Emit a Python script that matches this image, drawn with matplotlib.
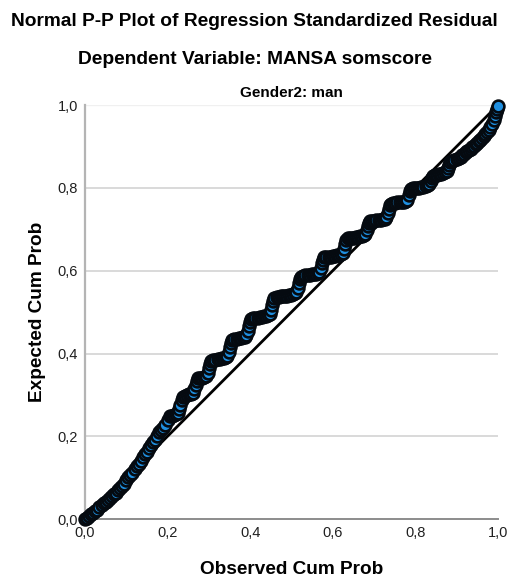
import matplotlib
matplotlib.use("Agg")
import matplotlib.pyplot as plt
from matplotlib.ticker import FixedLocator

plt.rcParams["font.family"] = ["Liberation Sans", "DejaVu Sans"]

# Observed vs expected cumulative probabilities of the standardized residuals
obs_cum_prob = [
    0.000, 0.005, 0.010, 0.015, 0.020, 0.025, 0.030, 0.035, 0.040, 0.045,
    0.050, 0.055, 0.060, 0.065, 0.070, 0.075, 0.080, 0.085, 0.090, 0.095,
    0.100, 0.105, 0.110, 0.115, 0.120, 0.125, 0.130, 0.135, 0.140, 0.145,
    0.150, 0.155, 0.160, 0.165, 0.170, 0.175, 0.180, 0.185, 0.190, 0.195,
    0.200, 0.205,
    0.210, 0.215, 0.220, 0.225, 0.228, 0.231, 0.234, 0.237,
    0.242, 0.247, 0.252, 0.257, 0.262, 0.265, 0.268, 0.271, 0.274,
    0.279, 0.284, 0.289, 0.294, 0.297, 0.300, 0.303, 0.306,
    0.311, 0.316, 0.321, 0.326, 0.331, 0.336, 0.341, 0.345, 0.348, 0.351, 0.354, 0.357,
    0.362, 0.367, 0.372, 0.377, 0.382, 0.387, 0.391, 0.394, 0.397, 0.400, 0.403,
    0.408, 0.413, 0.418, 0.423, 0.428, 0.433, 0.438, 0.443, 0.447, 0.450, 0.453, 0.456, 0.459,
    0.464, 0.469, 0.474, 0.479, 0.484, 0.489, 0.494, 0.499, 0.504, 0.509, 0.512,
    0.515, 0.518, 0.521, 0.524,
    0.529, 0.534, 0.539, 0.544, 0.549, 0.554, 0.559, 0.564, 0.568, 0.571, 0.574, 0.577, 0.580,
    0.585, 0.590, 0.595, 0.600, 0.605, 0.610, 0.615, 0.620, 0.624, 0.627, 0.630, 0.633, 0.636,
    0.641, 0.646, 0.651, 0.656, 0.661, 0.666, 0.671, 0.676, 0.679, 0.682, 0.685, 0.688, 0.691,
    0.696, 0.701, 0.706, 0.711, 0.716, 0.721, 0.726, 0.730, 0.733, 0.736, 0.739, 0.742,
    0.747, 0.752, 0.757, 0.762, 0.767, 0.772, 0.777, 0.781, 0.784, 0.787, 0.790,
    0.795, 0.800, 0.805, 0.810, 0.815, 0.820, 0.825, 0.830, 0.834, 0.837, 0.840, 0.843,
    0.848, 0.853, 0.858, 0.863, 0.868, 0.872, 0.876, 0.879, 0.882, 0.885,
    0.890, 0.895, 0.900, 0.905, 0.910, 0.914,
    0.918, 0.922, 0.926, 0.930, 0.934, 0.938, 0.942, 0.946, 0.950, 0.954,
    0.958, 0.962, 0.966, 0.970, 0.974, 0.978, 0.982, 0.986, 0.990, 0.993,
    0.996, 0.998, 1.000,
]
exp_cum_prob = [
    0.000, 0.003, 0.007, 0.011, 0.015, 0.019, 0.023, 0.028, 0.033, 0.038,
    0.042, 0.046, 0.050, 0.056, 0.060, 0.064, 0.070, 0.076, 0.081, 0.085,
    0.094, 0.101, 0.106, 0.112, 0.122, 0.128, 0.133, 0.140, 0.150, 0.157,
    0.163, 0.172, 0.180, 0.185, 0.190, 0.200, 0.210, 0.215, 0.220, 0.228,
    0.240, 0.248,
    0.250, 0.252, 0.254, 0.256, 0.265, 0.276, 0.287, 0.296,
    0.298, 0.300, 0.301, 0.303, 0.305, 0.314, 0.324, 0.333, 0.340,
    0.341, 0.342, 0.344, 0.346, 0.354, 0.364, 0.374, 0.382,
    0.384, 0.385, 0.386, 0.387, 0.388, 0.389, 0.391, 0.394, 0.404, 0.415, 0.426, 0.433,
    0.435, 0.436, 0.437, 0.438, 0.439, 0.441, 0.444, 0.455, 0.466, 0.477, 0.484,
    0.486, 0.487, 0.487, 0.488, 0.489, 0.490, 0.491, 0.493, 0.496, 0.506, 0.517, 0.527, 0.534,
    0.536, 0.537, 0.538, 0.538, 0.539, 0.540, 0.541, 0.542, 0.543, 0.545, 0.548,
    0.559, 0.570, 0.580, 0.586,
    0.588, 0.589, 0.589, 0.590, 0.591, 0.592, 0.593, 0.594, 0.597, 0.607, 0.618, 0.627, 0.632,
    0.633, 0.634, 0.634, 0.635, 0.636, 0.637, 0.638, 0.640, 0.643, 0.653, 0.664, 0.674, 0.678,
    0.679, 0.680, 0.680, 0.681, 0.682, 0.683, 0.684, 0.686, 0.689, 0.699, 0.709, 0.716, 0.719,
    0.720, 0.721, 0.722, 0.722, 0.723, 0.724, 0.726, 0.729, 0.739, 0.750, 0.758, 0.762,
    0.763, 0.764, 0.765, 0.765, 0.766, 0.767, 0.769, 0.772, 0.782, 0.792, 0.797,
    0.799, 0.800, 0.800, 0.801, 0.802, 0.803, 0.804, 0.806, 0.809, 0.817, 0.825, 0.830,
    0.831, 0.832, 0.833, 0.834, 0.835, 0.838, 0.842, 0.848, 0.856, 0.862,
    0.866, 0.868, 0.870, 0.872, 0.875, 0.879,
    0.883, 0.886, 0.889, 0.892, 0.895, 0.898, 0.902, 0.906, 0.909, 0.913,
    0.917, 0.921, 0.926, 0.930, 0.935, 0.941, 0.947, 0.955, 0.965, 0.974,
    0.983, 0.990, 0.997,
]

tick_values = [0.0, 0.2, 0.4, 0.6, 0.8, 1.0]
tick_labels = ["0,0", "0,2", "0,4", "0,6", "0,8", "1,0"]

fig = plt.figure(figsize=(5.09, 5.78), dpi=100)
ax = fig.add_axes([0.167, 0.102, 0.811, 0.716])

ax.set_xlim(0, 1)
ax.set_ylim(0, 1)

# horizontal reference lines
for v in tick_values[1:-1]:
    ax.axhline(v, color="#d9d9d9", lw=1.4, zorder=0)
ax.axhline(1.0, color="#f0f0f0", lw=1.0, zorder=0)

# expected-under-normality diagonal
ax.plot([0, 1], [0, 1], color="black", lw=2.0, zorder=2, solid_capstyle="butt")

ax.scatter(obs_cum_prob, exp_cum_prob, s=72, facecolor="#1f8fe0",
           edgecolor="#050a10", linewidth=1.9, zorder=3, clip_on=False)

ax.xaxis.set_major_locator(FixedLocator(tick_values))
ax.yaxis.set_major_locator(FixedLocator(tick_values))
ax.set_xticklabels(tick_labels)
ax.set_yticklabels(tick_labels)
ax.tick_params(length=0, labelsize=10.5, colors="#202020", pad=5)

for side in ("top", "right"):
    ax.spines[side].set_visible(False)
ax.spines["left"].set_color("#b4b4b4")
ax.spines["left"].set_linewidth(1.6)
ax.spines["bottom"].set_color("#8c8c8c")
ax.spines["bottom"].set_linewidth(1.4)

ax.set_xlabel("Observed Cum Prob", fontsize=13.7, fontweight="bold", labelpad=15)
ax.set_ylabel("Expected Cum Prob", fontsize=13.7, fontweight="bold", labelpad=8)

fig.text(0.5, 1 - 21 / 578, "Normal P-P Plot of Regression Standardized Residual",
         ha="center", va="center", fontsize=13.8, fontweight="bold")
fig.text(0.5, 1 - 60 / 578, "Dependent Variable: MANSA somscore",
         ha="center", va="center", fontsize=13.8, fontweight="bold")
ax.set_title("Gender2: man", fontsize=11, fontweight="bold", pad=6)

fig.savefig("out.png", dpi=100, facecolor="white")
